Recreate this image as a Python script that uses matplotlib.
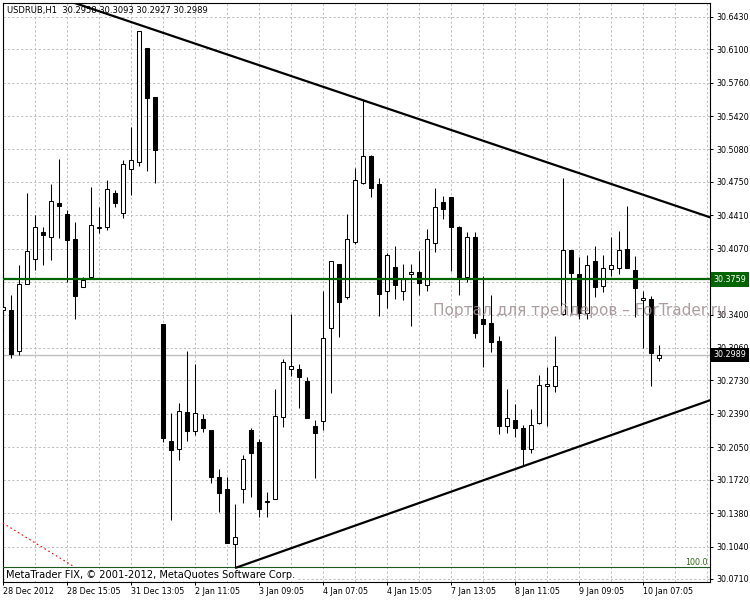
import matplotlib
matplotlib.use("Agg")
import matplotlib.pyplot as plt
from matplotlib.patches import Rectangle
from matplotlib.transforms import blended_transform_factory

# ---------------- data (USDRUB, H1) ----------------
opens = [30.3448, 30.3444, 30.3027, 30.3716, 30.3962, 30.4240, 30.4194, 30.4533, 30.4419, 30.4169,
         30.3676, 30.3780, 30.4285, 30.4294, 30.4633, 30.4436, 30.4886, 30.4948, 30.6108, 30.5612,
         30.3304, 30.2111, 30.2028, 30.2407, 30.2220, 30.2341, 30.2225, 30.1743, 30.1625, 30.1063,
         30.1622, 30.2226, 30.2107, 30.1496, 30.1521, 30.2355, 30.2843, 30.2843, 30.2724, 30.2266,
         30.2312, 30.3260, 30.3911, 30.3582, 30.4135, 30.4741, 30.5013, 30.4728, 30.3635, 30.3881,
         30.3643, 30.3810, 30.3830, 30.3696, 30.4133, 30.4545, 30.4593, 30.4288, 30.3785, 30.4186,
         30.3355, 30.3311, 30.3131, 30.2269, 30.2327, 30.2243, 30.2029, 30.2294, 30.2673, 30.2673,
         30.3403, 30.4057, 30.3813, 30.3413, 30.3940, 30.3688, 30.3860, 30.3871, 30.4064, 30.3853,
         30.3545, 30.3555, 30.2958]
highs = [30.3919, 30.3598, 30.3905, 30.4633, 30.4412, 30.4294, 30.4733, 30.4983, 30.4466, 30.4337,
         30.3784, 30.4698, 30.4497, 30.4769, 30.4668, 30.4972, 30.5304, 30.6283, 30.6110, 30.5614,
         30.3306, 30.2403, 30.2498, 30.3027, 30.2900, 30.2388, 30.2227, 30.1829, 30.1748, 30.1473,
         30.1971, 30.2243, 30.2131, 30.1592, 30.2643, 30.2948, 30.3403, 30.2894, 30.2768, 30.2327,
         30.3640, 30.3947, 30.3913, 30.4426, 30.4888, 30.5591, 30.5023, 30.4794, 30.4023, 30.4097,
         30.3911, 30.3911, 30.4049, 30.4268, 30.4684, 30.4606, 30.4599, 30.4301, 30.4237, 30.4235,
         30.3792, 30.3604, 30.3185, 30.2643, 30.2490, 30.2277, 30.2437, 30.2785, 30.2870, 30.3182,
         30.4794, 30.4059, 30.3983, 30.4006, 30.4097, 30.4001, 30.4186, 30.4247, 30.4507, 30.3993,
         30.3640, 30.3589, 30.3093]
lows = [30.3224, 30.2963, 30.2985, 30.3711, 30.3858, 30.3905, 30.3955, 30.4180, 30.3733, 30.3359,
        30.3676, 30.3780, 30.4234, 30.4265, 30.4490, 30.4379, 30.4615, 30.4916, 30.4865, 30.4734,
        30.2100, 30.1314, 30.1920, 30.2118, 30.2170, 30.2205, 30.1686, 30.1394, 30.1071, 30.0822,
        30.1480, 30.1541, 30.1336, 30.1344, 30.1521, 30.2253, 30.2770, 30.2446, 30.2345, 30.1742,
        30.2223, 30.2605, 30.3175, 30.3558, 30.4115, 30.4725, 30.4599, 30.3388, 30.3470, 30.3555,
        30.3553, 30.3286, 30.3604, 30.3640, 30.4040, 30.4370, 30.3845, 30.3599, 30.3734, 30.3165,
        30.2870, 30.3022, 30.2182, 30.2192, 30.2158, 30.1859, 30.1989, 30.2284, 30.2263, 30.2615,
        30.3400, 30.3403, 30.3355, 30.3353, 30.3582, 30.3633, 30.3792, 30.3808, 30.3871, 30.3375,
        30.3057, 30.2678, 30.2927]
closes = [30.3481, 30.2999, 30.3712, 30.4045, 30.4287, 30.4212, 30.4551, 30.4508, 30.4162, 30.3584,
          30.3752, 30.4308, 30.4290, 30.4682, 30.4533, 30.4930, 30.4968, 30.6280, 30.5607, 30.5078,
          30.2149, 30.2024, 30.2417, 30.2220, 30.2396, 30.2249, 30.1750, 30.1580, 30.1071, 30.1140,
          30.1928, 30.1989, 30.1419, 30.1500, 30.2363, 30.2914, 30.2872, 30.2768, 30.2345, 30.2192,
          30.3159, 30.3945, 30.3531, 30.4166, 30.4769, 30.5013, 30.4691, 30.3612, 30.4003, 30.3701,
          30.3757, 30.3830, 30.3726, 30.4166, 30.4491, 30.4477, 30.4286, 30.3759, 30.4186, 30.3209,
          30.3306, 30.3124, 30.2269, 30.2345, 30.2249, 30.2029, 30.2277, 30.2683, 30.2694, 30.2877,
          30.4057, 30.3820, 30.3413, 30.3902, 30.3683, 30.3871, 30.3902, 30.4057, 30.3871, 30.3667,
          30.3565, 30.3006, 30.2989]

xtick_pos = [0, 8, 16, 24, 32, 40, 48, 56, 64, 72, 80]
xtick_labels = ["28 Dec 2012", "28 Dec 15:05", "31 Dec 13:05", "2 Jan 11:05", "3 Jan 09:05",
                "4 Jan 07:05", "4 Jan 15:05", "7 Jan 13:05", "8 Jan 11:05", "9 Jan 09:05",
                "10 Jan 07:05"]
ytick_labels = ["30.6430", "30.6100", "30.5760", "30.5420", "30.5080", "30.4750", "30.4410",
                "30.4070", "30.3730", "30.3400", "30.3060", "30.2730", "30.2390", "30.2050",
                "30.1720", "30.1380", "30.1040", "30.0710"]

title_text = "USDRUB,H1  30.2958 30.3093 30.2927 30.2989"
hline_price = 30.3759
bid_price = 30.2989
fibo_level = 30.0832
upper_trend = ([0, 90], [30.6815, 30.4344])
lower_trend = ([29, 90], [30.0822, 30.2576])
fibo_base = ([-1, 8.84], [30.1326, 30.0835])

# ---------------- figure ----------------
W, H = 750, 600
fig = plt.figure(figsize=(W / 100, H / 100), dpi=100)
fig.patch.set_facecolor("white")
L, R, T, B = 2.7, 710.0, 2.7, 582.0
ax = fig.add_axes([L / W, 1 - B / H, (R - L) / W, (B - T) / H])
ax.set_facecolor("white")
ax.set_xlim(-0.075, 88.34)
ax.set_ylim(30.0679, 30.6573)

FONT = "DejaVu Sans"
FS = 5.8

# grid / ticks
ax.set_xticks(xtick_pos)
ax.set_xticklabels(xtick_labels, fontsize=FS, family=FONT, ha="left")
ax.set_xticks([4, 12, 20, 28, 36, 44, 52, 60, 68, 76, 84, 88], minor=True)
yvals = [float(s) for s in ytick_labels]
ax.set_yticks(yvals)
ax.set_yticklabels(ytick_labels, fontsize=FS, family=FONT)
ax.yaxis.tick_right()
ax.tick_params(axis="both", which="major", direction="out", length=2.3, width=0.7,
               colors="black", pad=1.5)
ax.tick_params(axis="x", which="minor", length=0)
ax.tick_params(axis="y", which="major", pad=2.0)
gkw = dict(color="#c0c0c0", linewidth=0.72, dashes=(2.2, 2.2))
ax.grid(True, which="both", axis="x", **gkw)
ax.grid(True, which="major", axis="y", **gkw)
ax.set_axisbelow(True)
for s in ax.spines.values():
    s.set_color("black")
    s.set_linewidth(0.8)

# candles
bw = 0.5
for i, (o, h, l, c) in enumerate(zip(opens, highs, lows, closes)):
    ax.vlines(i, l, h, color="black", linewidth=0.75, zorder=3)
    bottom = min(o, c)
    height = abs(c - o)
    fc = "white" if c >= o else "black"
    ax.add_patch(Rectangle((i - bw / 2, bottom), bw, height, facecolor=fc,
                           edgecolor="black", linewidth=0.75, zorder=4))

# horizontal lines
ax.axhline(bid_price, color="#c0c0c0", linewidth=1.0, zorder=2)
ax.axhline(hline_price, color="#006400", linewidth=1.6, zorder=5)
ax.axhline(fibo_level, color="#1e5a1e", linewidth=0.8, zorder=5)

# trend lines
ax.plot(upper_trend[0], upper_trend[1], color="black", linewidth=1.6, zorder=6,
        solid_capstyle="butt")
ax.plot(lower_trend[0], lower_trend[1], color="black", linewidth=1.6, zorder=6,
        solid_capstyle="butt")
ax.plot(fibo_base[0], fibo_base[1], color="red", linewidth=0.8, dashes=(1.5, 2.5), zorder=5)

# texts inside chart
ax.text(4.5 / (R - L), 1 - (10 - T) / (B - T), title_text, transform=ax.transAxes,
        fontsize=6.0, family=FONT, color="black", va="center", ha="left", zorder=10)
ax.text(3 / (R - L), 1 - (575 - T) / (B - T),
        "MetaTrader FIX, \u00a9 2001-2012, MetaQuotes Software Corp.",
        transform=ax.transAxes, fontsize=7.1, family=FONT, color="black",
        va="center", ha="left", zorder=5.5,
        bbox=dict(boxstyle="square,pad=0.1", fc="white", ec="none"))
trans = blended_transform_factory(ax.transAxes, ax.transData)
ax.text(0.997, fibo_level, "100.0", transform=trans, fontsize=FS, family=FONT,
        color="#2f6b12", va="bottom", ha="right", zorder=7)

# price labels on the axis
ax.text(1.005, hline_price, "30.3759", transform=trans, fontsize=FS, family=FONT,
        color="white", va="center", ha="left", zorder=12, clip_on=False,
        bbox=dict(boxstyle="square,pad=0.35", fc="#006400", ec="none"))
ax.text(1.005, bid_price, "30.2989", transform=trans, fontsize=FS, family=FONT,
        color="white", va="center", ha="left", zorder=12, clip_on=False,
        bbox=dict(boxstyle="square,pad=0.35", fc="black", ec="none"))

# watermark
fig.text(433 / W, 1 - 311 / H, "\u041f\u043e\u0440\u0442\u0430\u043b \u0434\u043b\u044f "
         "\u0442\u0440\u0435\u0439\u0434\u0435\u0440\u043e\u0432 \u2013 ForTrader.ru",
         fontsize=11, family=FONT, color="#a08c90", alpha=0.85, va="center", ha="left",
         zorder=20)

fig.savefig("out.png", dpi=100, facecolor="white")
